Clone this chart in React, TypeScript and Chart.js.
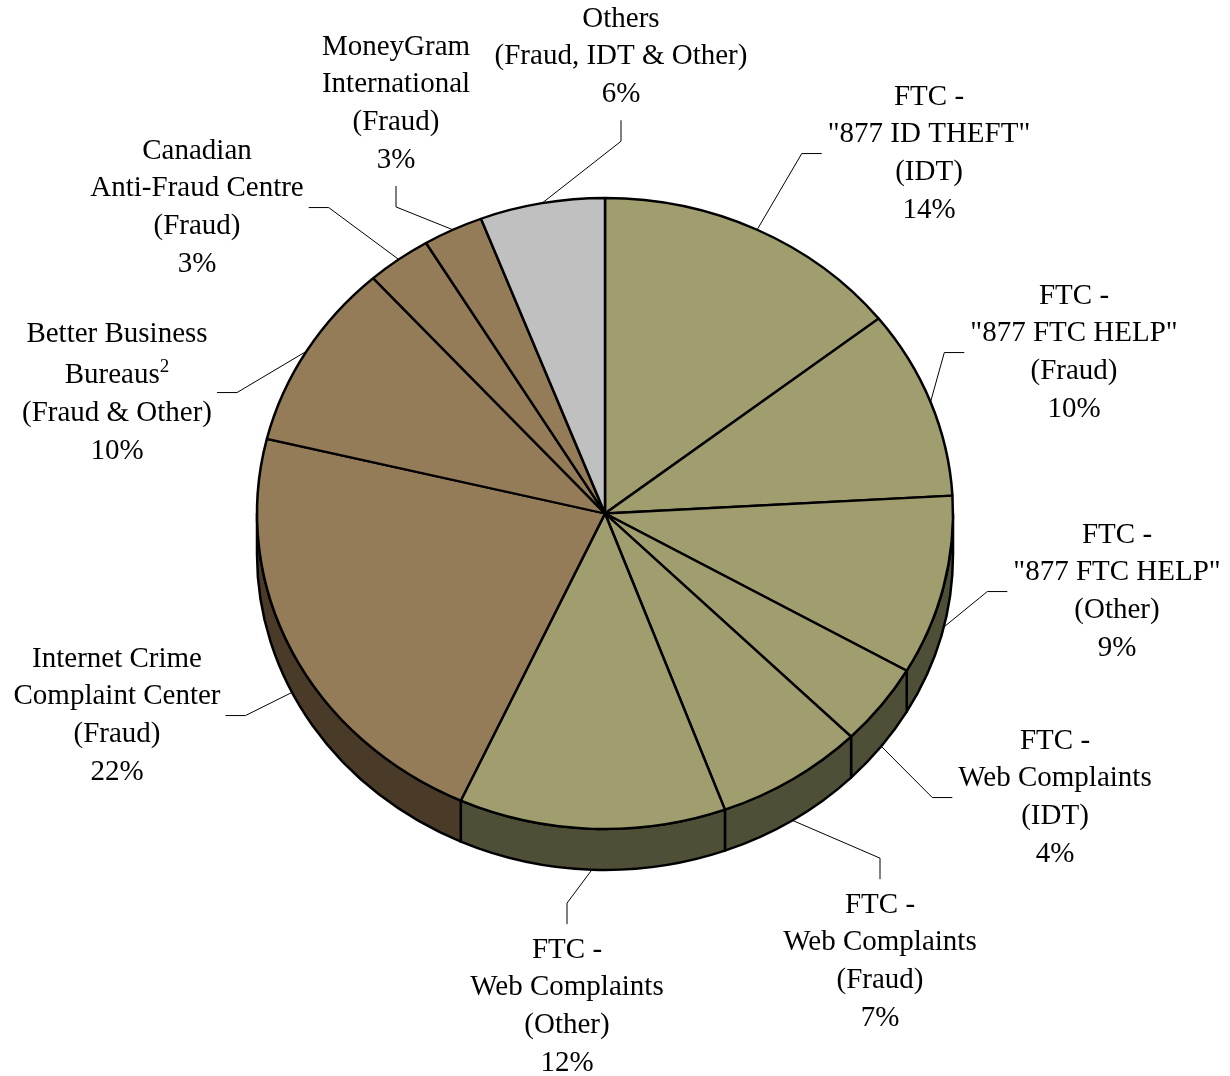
import React, { useEffect, useRef } from "react";
import { Chart, registerables } from "chart.js";

Chart.register(...registerables);

// ---- Data ----
const categories: string[][] = [
  ["FTC -", '"877 ID THEFT"', "(IDT)"],
  ["FTC -", '"877 FTC HELP"', "(Fraud)"],
  ["FTC -", '"877 FTC HELP"', "(Other)"],
  ["FTC -", "Web Complaints", "(IDT)"],
  ["FTC -", "Web Complaints", "(Fraud)"],
  ["FTC -", "Web Complaints", "(Other)"],
  ["Internet Crime", "Complaint Center", "(Fraud)"],
  ["Better Business", "Bureaus^2", "(Fraud & Other)"],
  ["Canadian", "Anti-Fraud Centre", "(Fraud)"],
  ["MoneyGram", "International", "(Fraud)"],
  ["Others", "(Fraud, IDT & Other)"],
];
const shares: number[] = [14.4, 9.7, 9.2, 4.2, 6.9, 12.4, 22.0, 9.6, 3.0, 2.8, 5.8];
const sourceGroup: string[] = [
  "ftc", "ftc", "ftc", "ftc", "ftc", "ftc",
  "other", "other", "other", "other",
  "misc",
];

// ---- Styles ----
const TOP_COLORS: Record<string, string> = { ftc: "#A09E6F", other: "#957C58", misc: "#C0C0C0" };
const SIDE_COLORS: Record<string, string> = { ftc: "#4F4F38", other: "#4A3B29", misc: "#606060" };
const SQUASH = 315.5 / 348;
const DEPTH = 41;
const FONT_SIZE = 29;
const LINE_H = 37.7;
const SUP_EXTRA = 4;
const FONT = `${FONT_SIZE}px "Liberation Serif", "Times New Roman", serif`;
const SUP_FONT = `19px "Liberation Serif", "Times New Roman", serif`;

// label layout: centre x, first line y, side of the pie the label sits on
const labelLayout = [
  { x: 929, y: 97, side: "right" },
  { x: 1074, y: 296, side: "right" },
  { x: 1117, y: 535, side: "right" },
  { x: 1055, y: 741, side: "right" },
  { x: 880, y: 905, side: "below" },
  { x: 567, y: 950, side: "below" },
  { x: 117, y: 659, side: "left" },
  { x: 117, y: 334, side: "left" },
  { x: 197, y: 151, side: "left" },
  { x: 396, y: 47, side: "above" },
  { x: 621, y: 19, side: "above" },
];

const pie3d = {
  id: "pie3d",
  beforeDatasetsDraw(chart: any) {
    const ctx = chart.ctx as CanvasRenderingContext2D;
    const arcs = chart.getDatasetMeta(0).data as any[];
    ctx.save();
    arcs.forEach((arc, i) => {
      const { x, y, startAngle, endAngle, outerRadius } = arc.getProps(
        ["x", "y", "startAngle", "endAngle", "outerRadius"],
        true
      );
      const a1 = Math.max(startAngle, 0);
      const a2 = Math.min(endAngle, Math.PI);
      if (a2 <= a1) return;
      const rx = outerRadius;
      const ry = outerRadius * SQUASH;
      ctx.beginPath();
      ctx.ellipse(x, y, rx, ry, 0, a1, a2, false);
      ctx.ellipse(x, y + DEPTH, rx, ry, 0, a2, a1, true);
      ctx.closePath();
      ctx.fillStyle = SIDE_COLORS[sourceGroup[i]];
      ctx.fill();
      ctx.lineWidth = 2.5;
      ctx.lineJoin = "round";
      ctx.strokeStyle = "#000";
      ctx.stroke();
    });
    ctx.restore();
    ctx.save();
    const { x, y } = arcs[0];
    ctx.translate(x, y);
    ctx.scale(1, SQUASH);
    ctx.translate(-x, -y);
  },
  afterDatasetsDraw(chart: any) {
    chart.ctx.restore();
  },
};

function measure(ctx: CanvasRenderingContext2D, line: string) {
  const [base, sup] = line.split("^");
  ctx.font = FONT;
  let w = ctx.measureText(base).width;
  let sw = 0;
  if (sup) {
    ctx.font = SUP_FONT;
    sw = ctx.measureText(sup).width;
  }
  return { base, sup, bw: w, w: w + sw };
}

const labelsPlugin = {
  id: "pieLabels",
  afterDraw(chart: any) {
    const ctx = chart.ctx as CanvasRenderingContext2D;
    const arcs = chart.getDatasetMeta(0).data as any[];
    const total = shares.reduce((a, b) => a + b, 0);
    ctx.save();
    ctx.textBaseline = "middle";
    ctx.textAlign = "left";
    ctx.fillStyle = "#000";
    arcs.forEach((arc, i) => {
      const lay = labelLayout[i];
      const lines = [...categories[i], `${Math.round((shares[i] / total) * 100)}%`];
      const ys: number[] = [];
      let yy = lay.y;
      lines.forEach((ln, k) => {
        if (k > 0) yy += LINE_H + (ln.includes("^") ? SUP_EXTRA : 0);
        ys.push(yy);
      });
      const ms = lines.map((ln) => measure(ctx, ln));
      const maxW = Math.max(...ms.map((m) => m.w));
      ms.forEach((m, k) => {
        const x0 = lay.x - m.w / 2;
        ctx.font = FONT;
        ctx.fillText(m.base, x0, ys[k]);
        if (m.sup) {
          ctx.font = SUP_FONT;
          ctx.fillText(m.sup, x0 + m.bw, ys[k] - 9);
        }
      });
      const { x, y, startAngle, endAngle, outerRadius } = arc.getProps(
        ["x", "y", "startAngle", "endAngle", "outerRadius"],
        true
      );
      const t = (startAngle + endAngle) / 2;
      const px = x + outerRadius * Math.cos(t);
      const py = y + outerRadius * SQUASH * Math.sin(t) + (Math.sin(t) > 0 ? DEPTH : 0);
      const midY = (ys[0] + ys[ys.length - 1]) / 2;
      let ex = 0, ey = 0, bx = 0, by = 0;
      if (lay.side === "right") {
        ex = lay.x - maxW / 2 - 6; ey = midY; bx = ex - 20; by = ey;
      } else if (lay.side === "left") {
        ex = lay.x + maxW / 2 + 5; ey = midY; bx = ex + 20; by = ey;
      } else if (lay.side === "above") {
        ex = lay.x; ey = ys[ys.length - 1] + LINE_H / 2 + 7; bx = ex; by = ey + 21;
      } else {
        ex = lay.x; ey = ys[0] - LINE_H / 2 - 7; bx = ex; by = ey - 21;
      }
      ctx.beginPath();
      ctx.moveTo(px, py);
      ctx.lineTo(bx, by);
      ctx.lineTo(ex, ey);
      ctx.lineWidth = 1;
      ctx.strokeStyle = "#000";
      ctx.stroke();
    });
    ctx.restore();
  },
};

export default function App() {
  const canvasRef = useRef<HTMLCanvasElement | null>(null);

  useEffect(() => {
    document.body.style.margin = "0";
    const canvas = canvasRef.current;
    if (!canvas) return;
    const chart = new Chart(canvas, {
      type: "pie",
      data: {
        labels: categories.map((l) => l.join(" ").replace("^2", "")),
        datasets: [
          {
            data: shares,
            backgroundColor: sourceGroup.map((g) => TOP_COLORS[g]),
            borderColor: "#000",
            borderWidth: 2.5,
            hoverOffset: 0,
            radius: 348,
          } as any,
        ],
      },
      options: {
        responsive: false,
        animation: false,
        events: [],
        layout: { padding: { left: 100, right: 120, top: 100, bottom: 149 } },
        plugins: {
          legend: { display: false },
          tooltip: { enabled: false },
        },
      } as any,
      plugins: [pie3d, labelsPlugin],
    });
    return () => chart.destroy();
  }, []);

  return (
    <div style={{ width: 1230, height: 1076, background: "#fff" }}>
      <canvas ref={canvasRef} width={1230} height={1076} style={{ display: "block" }} />
    </div>
  );
}
